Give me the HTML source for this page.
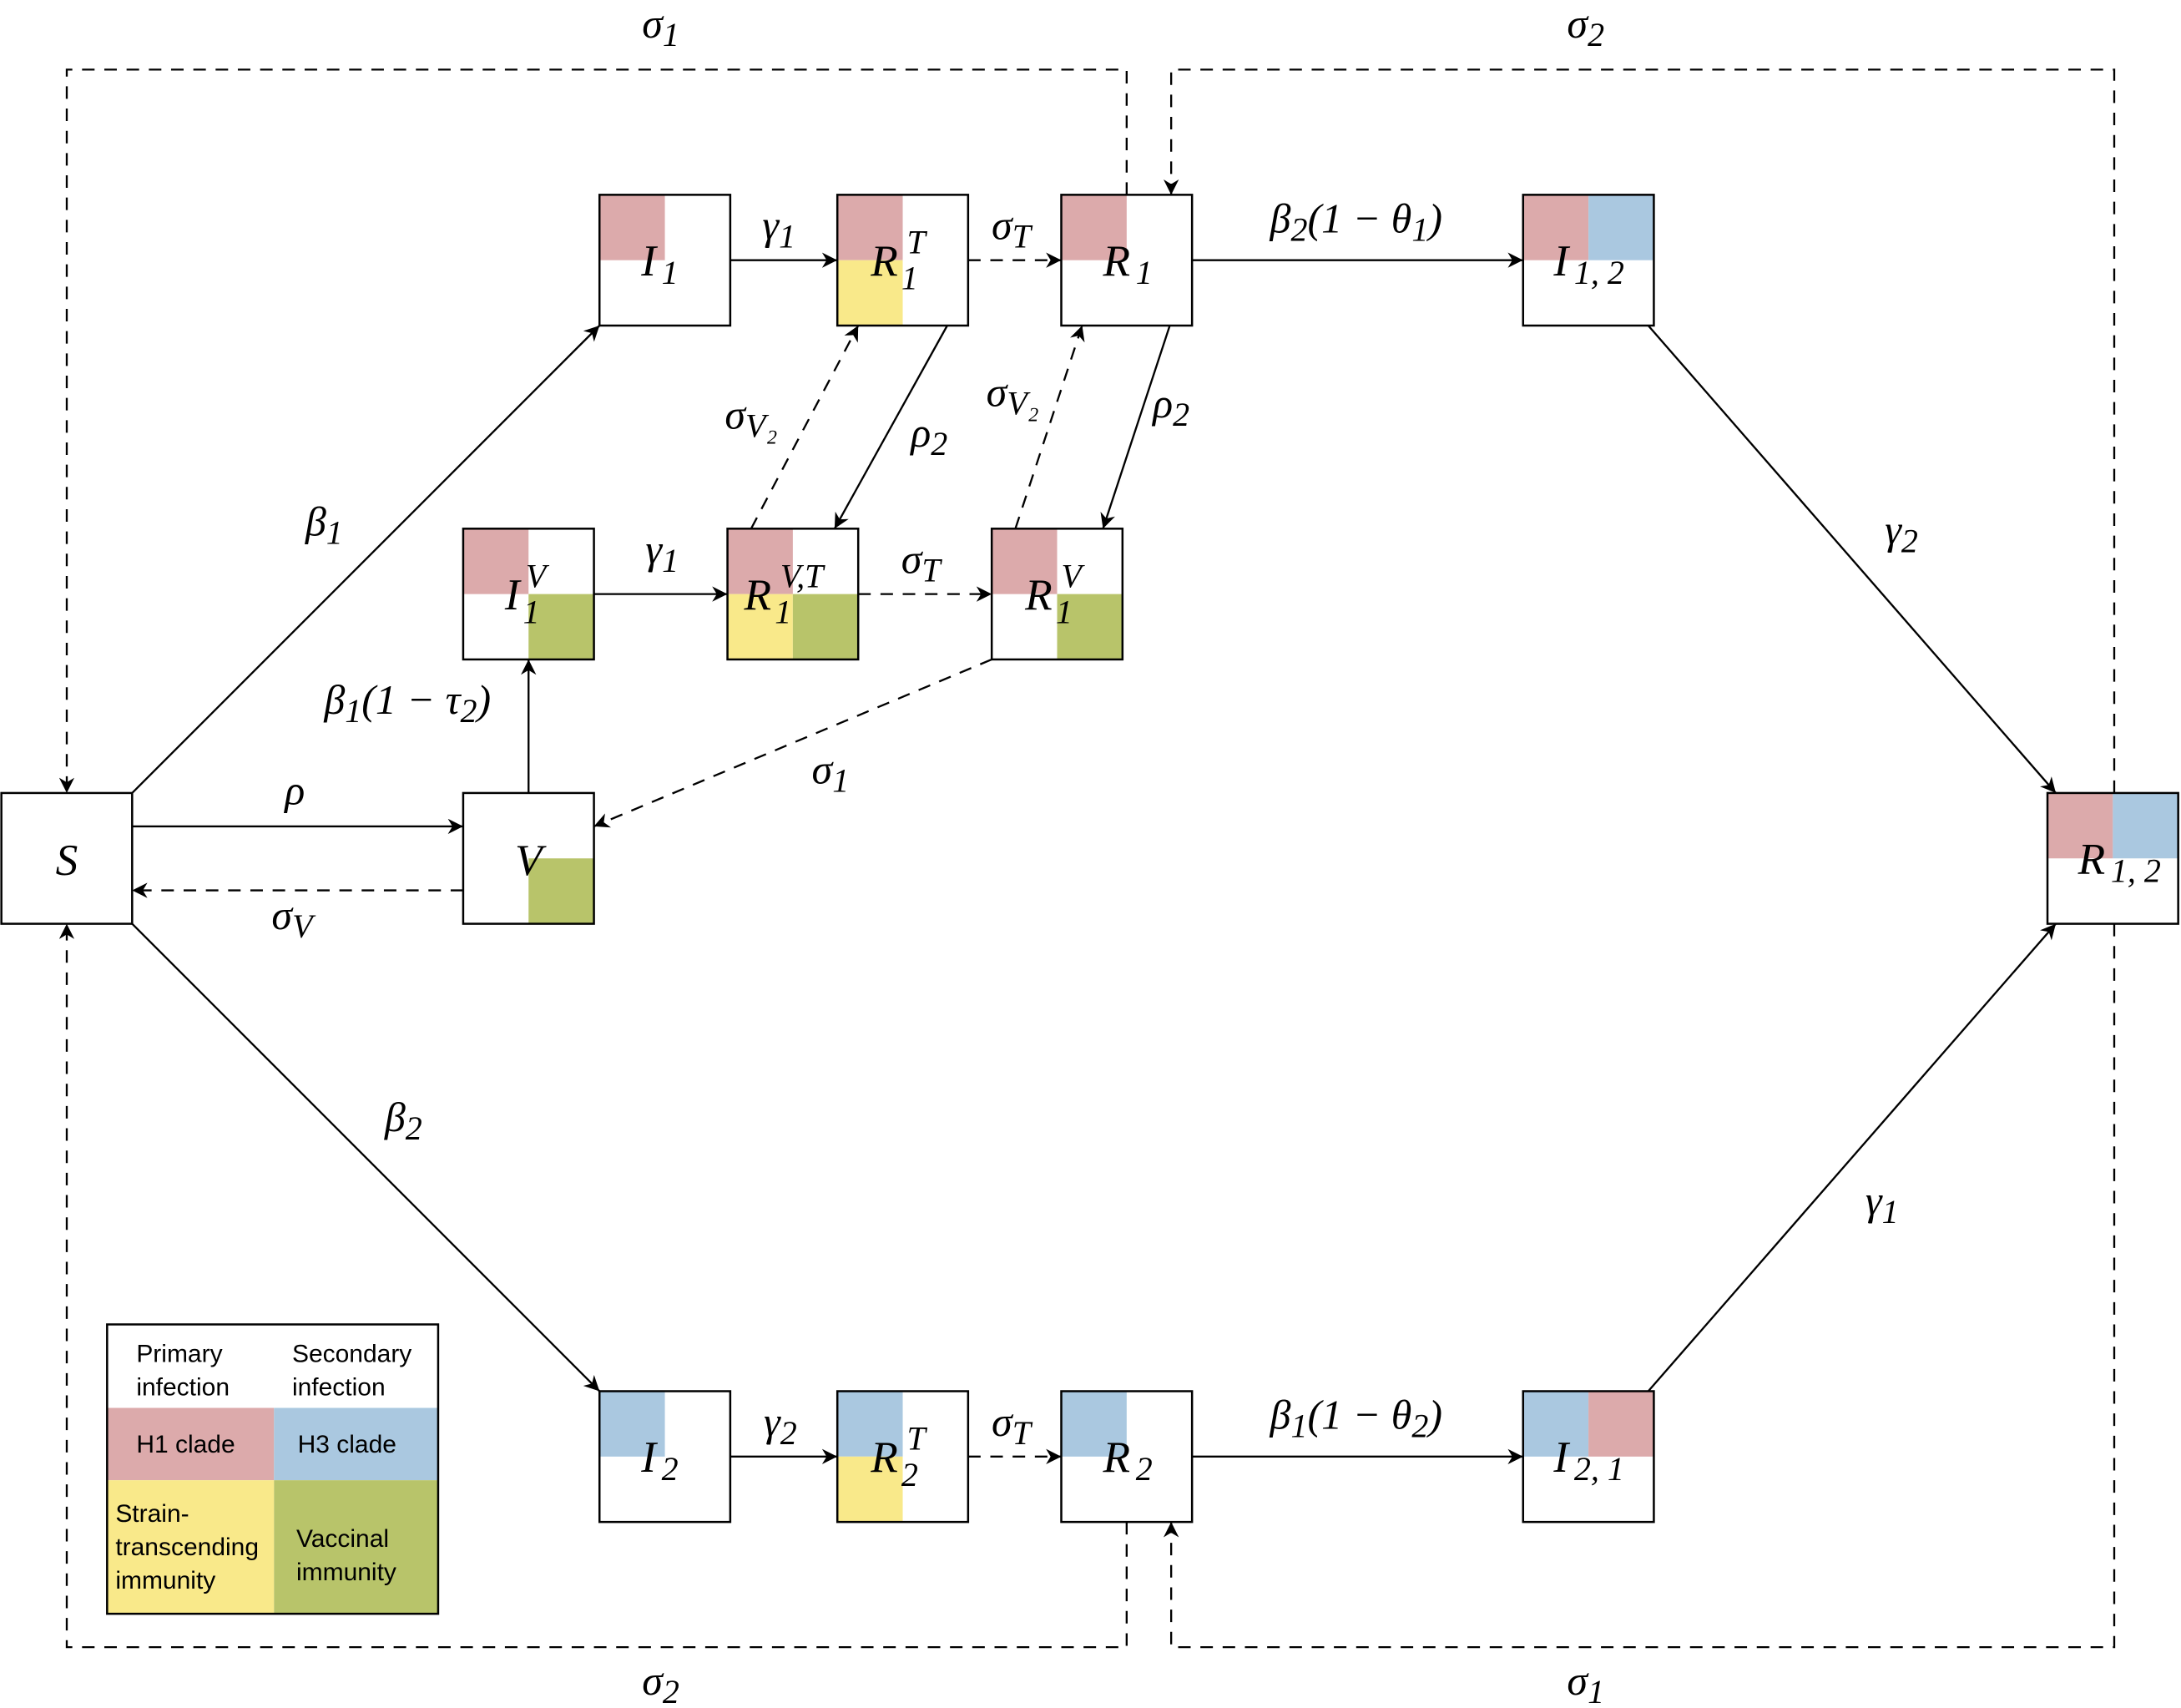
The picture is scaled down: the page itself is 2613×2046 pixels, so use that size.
<!DOCTYPE html>
<html><head><meta charset="utf-8"><style>
html,body{margin:0;padding:0;background:#fff}
svg{display:block}
text{font-family:"Liberation Serif",serif;font-style:italic;fill:#000}
.leg{font-family:"Liberation Sans",sans-serif;font-style:normal;font-size:18px}
</style></head><body>
<svg width="2613" height="2046" viewBox="0 0 1568 1227.7" xmlns="http://www.w3.org/2000/svg">
<defs><marker id="ah" viewBox="0 0 10 10" refX="10" refY="5" markerWidth="11" markerHeight="11" markerUnits="userSpaceOnUse" orient="auto"><path d="M0,0 L10,5 L0,10 L3,5z" fill="#000"/></marker></defs>
<g id="boxes"></g>
<g id="lines" stroke="#000" stroke-width="1.4" fill="none"></g>
<g id="labels"></g>
<g>
<rect x="77" y="1012" width="120" height="52" fill="#dcaaab"/><rect x="197" y="1012" width="118" height="52" fill="#aac8e0"/>
<rect x="77" y="1064" width="120" height="96" fill="#f9e98a"/><rect x="197" y="1064" width="118" height="96" fill="#b8c46a"/>
<rect x="77" y="952" width="238" height="208" fill="none" stroke="#000" stroke-width="1.5"/>
<text class="leg" x="98" y="979">Primary</text><text class="leg" x="98" y="1003">infection</text>
<text class="leg" x="210" y="979">Secondary</text><text class="leg" x="210" y="1003">infection</text>
<text class="leg" x="98" y="1044">H1 clade</text><text class="leg" x="214" y="1044">H3 clade</text>
<text class="leg" x="83" y="1094">Strain-</text><text class="leg" x="83" y="1118">transcending</text><text class="leg" x="83" y="1142">immunity</text>
<text class="leg" x="213" y="1112">Vaccinal</text><text class="leg" x="213" y="1136">immunity</text>
</g>
</svg>
<script>
const NS='http://www.w3.org/2000/svg';
const C={p:'#dcaaab',b:'#aac8e0',y:'#f9e98a',g:'#b8c46a'};
const boxes=[
['S',1,570,0,0,0,0,'S','',''],
['V',333,570,0,0,0,'g','V','',''],
['I1',431,140,'p',0,0,0,'I','1',''],
['R1T',602,140,'p',0,'y',0,'R','1','T'],
['R1',763,140,'p',0,0,0,'R','1',''],
['I12',1095,140,'p','b',0,0,'I','1, 2',''],
['I1V',333,380,'p',0,0,'g','I','1','V'],
['R1VT',523,380,'p',0,'y','g','R','1','V,T'],
['R1V',713,380,'p',0,0,'g','R','1','V'],
['R12',1472,570,'p','b',0,0,'R','1, 2',''],
['I2',431,1000,'b',0,0,0,'I','2',''],
['R2T',602,1000,'b',0,'y',0,'R','2','T'],
['R2',763,1000,'b',0,0,0,'R','2',''],
['I21',1095,1000,'b','p',0,0,'I','2, 1','']];
const bg=document.getElementById('boxes');
function el(t,a,p){const e=document.createElementNS(NS,t);for(const k in a)e.setAttribute(k,a[k]);p.appendChild(e);return e;}
boxes.forEach(b=>{const [n,x,y,tl,tr,bl,br,m,sb,sp]=b;
 const g=el('g',{},bg);
 
 
 const h=47;
 [[tl,0,0],[tr,h,0],[bl,0,h],[br,h,h]].forEach(q=>{if(q[0])el('rect',{x:x+q[1],y:y+q[2],width:h,height:h,fill:C[q[0]]},g);});
 el('rect',{x:x,y:y,width:94,height:94,fill:'none',stroke:'#000','stroke-width':1.5},g);
 if(!sb){el('text',{x:x+47,y:y+59,'font-size':32,'text-anchor':'middle'},g).textContent=m;return;}
 if(sp){
  const ix=m==='I'?x+30:(sp.length>1?x+12:x+24);
  el('text',{x:ix,y:y+58,'font-size':32},g).textContent=m;
  el('text',{x:ix+(m==='I'?15:26),y:y+42,'font-size':24},g).textContent=sp;
  el('text',{x:ix+(m==='I'?13:22),y:y+68,'font-size':24},g).textContent=sb;
 } else {
  const t=el('text',{x:x+(sb.length>1?22:30),y:y+58,'font-size':32},g);
  t.textContent=m;
  const s=el('tspan',{'font-size':24,dx:4,dy:6},t);s.textContent=sb;
 }
});
const lg=document.getElementById('lines');
const L=[
[95,570,431,234,0,1],[95,664,431,1000,0,1],[95,594,333,594,0,1],[333,640,95,640,1,1],[380,570,380,474,0,1],
[525,187,602,187,0,1],[696,187,763,187,1,1],[857,187,1095,187,0,1],[1185,234,1478,570,0,1],[1185,1000,1478,664,0,1],
[681,234,600,380,0,1],[540,380,617,234,1,1],[841,234,793,380,0,1],[730,380,778,234,1,1],
[427,427,523,427,0,1],[617,427,713,427,1,1],[713,474,427,594,1,1],
[525,1047,602,1047,0,1],[696,1047,763,1047,1,1],[857,1047,1095,1047,0,1]];
L.forEach((l,i)=>{const e=el('line',{x1:l[0],y1:l[1],x2:l[2],y2:l[3]},lg);
 
 
 if(l[4])e.setAttribute('stroke-dasharray','9,7');if(l[5])e.setAttribute('marker-end','url(#ah)');});
const P=['M810,140 V50 H48 V570','M1520,570 V50 H842 V140','M810,1094 V1184 H48 V664','M1520,664 V1184 H842 V1094'];
P.forEach((p,i)=>{const e=el('path',{d:p,'stroke-dasharray':'9,7','marker-end':'url(#ah)'},lg);
 
 });
const lab=document.getElementById('labels');
const T=[
[[['σ'],['1',1]],475,27],[[['σ'],['2',1]],1140,27],[[['σ'],['2',1]],475,1218],[[['σ'],['1',1]],1140,1218],
[[['γ'],['1',1]],560,172],[[['σ'],['T',1]],727,172],
[[['β'],['2',1],['(1 − θ'],['1',1],[')']],975,167],
[[['β'],['1',1]],233,385],[[['γ'],['1',1]],476,405],[[['σ'],['T',1]],662,412],
[[['σ'],['V₂',1]],540,308],[[['ρ'],['2',1]],668,321],[[['σ'],['V₂',1]],728,292],[[['ρ'],['2',1]],842,300],
[[['γ'],['2',1]],1367,391],
[[['β'],['1',1],['(1 − τ'],['2',1],[')']],293,513],
[[['σ'],['1',1]],597,563],[[['ρ']],212,578],[[['σ'],['V',1]],210,668],[[['β'],['2',1]],290,813],
[[['γ'],['1',1]],1353,873],[[['γ'],['2',1]],561,1032],[[['σ'],['T',1]],727,1032],
[[['β'],['1',1],['(1 − θ'],['2',1],[')']],975,1027]];
T.forEach((t,i)=>{const e=el('text',{x:t[1],y:t[2],'font-size':30,'text-anchor':'middle'},lab);
 
 
 let sub=false;
 t[0].forEach(s=>{const sp=el('tspan',{},e);sp.textContent=s[0];
  if(s[1]&&!sub){sp.setAttribute('dy',6);sp.setAttribute('font-size',24);sub=true;}
  else if(s[1]){sp.setAttribute('font-size',24);}
  else if(sub){sp.setAttribute('dy',-6);sub=false;}
 });
});
</script>
</body></html>
